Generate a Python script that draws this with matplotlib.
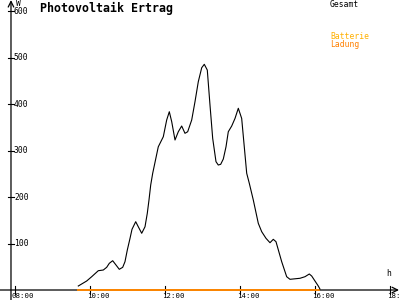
import matplotlib
matplotlib.use("Agg")
import matplotlib.pyplot as plt

# Photovoltaik Ertrag, Leistung in W ueber der Uhrzeit (Stunden)
zeit = [9.688, 9.912, 10.045, 10.221, 10.355, 10.445, 10.515, 10.605, 10.693, 10.781,
        10.872, 10.933, 10.995, 11.067, 11.12, 11.219, 11.288, 11.379, 11.467, 11.528,
        11.573, 11.619, 11.672, 11.821, 11.955, 12.045, 12.115, 12.179, 12.267, 12.355,
        12.445, 12.533, 12.605, 12.712, 12.8, 12.888, 12.979, 13.048, 13.128, 13.2,
        13.272, 13.36, 13.421, 13.485, 13.555, 13.627, 13.688, 13.779, 13.867, 13.955,
        14.045, 14.179, 14.248, 14.355, 14.488, 14.579, 14.693, 14.8, 14.888, 14.96,
        15.112, 15.245, 15.333, 15.6, 15.733, 15.848, 15.912, 16.088, 16.133]
gesamt = [8.6, 19.4, 28.6, 41.5, 43, 48.8, 57.4, 63, 53.8, 44.5,
          48.8, 60.9, 86, 111, 130.5, 146.9, 136, 122, 136, 165,
          193.5, 225.8, 251, 308, 329.7, 365.6, 383.4, 362, 322.6, 340.4,
          352.7, 337, 340.4, 365.6, 405, 448, 478, 485.4, 473, 397.8,
          326, 276, 268.8, 270.3, 281.7, 308, 340.4, 352.7, 369, 390.8,
          369, 251, 229.5, 193.5, 143.4, 125.4, 111.2, 101.7, 109, 103.9,
          60.9, 28.6, 23, 25.2, 28.6, 34.4, 30.1, 8.6, 2]
ladung_zeit = [9.67, 16.11]
batterie = [0, 0]
ladung = [0, 0]

x_ticks = [8, 10, 12, 14, 16, 18]
x_labels = ["08:00", "10:00", "12:00", "14:00", "16:00", "18:"]
y_ticks = [100, 200, 300, 400, 500, 600]

orange = "#ff8000"
gelb = "#ffb000"
mono = "DejaVu Sans Mono"

fig = plt.figure(figsize=(4, 3), dpi=100)
ax = fig.add_axes([0, 0, 1, 1])
ax.set_xlim(7.6, 18.267)
ax.set_ylim(-21.5, 623.7)
ax.axis("off")

px = 1 / 37.5   # eine Bildspalte in Stunden
py = 1 / 0.465  # eine Bildzeile in W
x0 = 7.893

# Achsen mit Pfeilen
ax.annotate("", xy=(18.24, 0), xytext=(7.6, 0),
            arrowprops=dict(arrowstyle="->", color="black", lw=0.9, shrinkA=0, shrinkB=0))
ax.annotate("", xy=(x0, 623.5), xytext=(x0, -21.5),
            arrowprops=dict(arrowstyle="->", color="black", lw=0.9, shrinkA=0, shrinkB=0))

for t, lab in zip(x_ticks, x_labels):
    ax.plot([t, t], [-4 * py, 4 * py], color="black", lw=0.8)
    ax.text(t - 3 * px, -2.5 * py, lab, fontsize=5.3, family=mono,
            ha="left", va="top")
for v in y_ticks:
    ax.plot([x0 - 3 * px, x0 + 3 * px], [v, v], color="black", lw=0.8)
    ax.text(x0 + 3 * px, v, str(v), fontsize=5.8, family=mono,
            ha="left", va="center")

ax.plot(ladung_zeit, batterie, color=gelb, lw=1.2, zorder=5)
ax.plot(ladung_zeit, ladung, color=orange, lw=1.2, zorder=6)
ax.plot(zeit, gesamt, color="black", lw=0.8, zorder=7)

ax.text(x0 + 5 * px, 291 * py, "W", fontsize=5.8, family=mono, ha="left", va="top")
ax.text(386 * px + 7.6, 12 * py, "h", fontsize=5.8, family=mono, ha="left", va="bottom")
ax.text(40 * px + 7.6, 288 * py, "Photovoltaik Ertrag", fontsize=8.4, family=mono,
        fontweight="bold", ha="left", va="top")
ax.text(330 * px + 7.6, 290 * py, "Gesamt", fontsize=5.8, family=mono, ha="left", va="top")
ax.text(330 * px + 7.6, 258 * py, "Batterie", fontsize=5.8, family=mono, color=gelb,
        ha="left", va="top")
ax.text(330 * px + 7.6, 250 * py, "Ladung", fontsize=5.8, family=mono, color=orange,
        ha="left", va="top")

fig.savefig("out.png", dpi=100)
